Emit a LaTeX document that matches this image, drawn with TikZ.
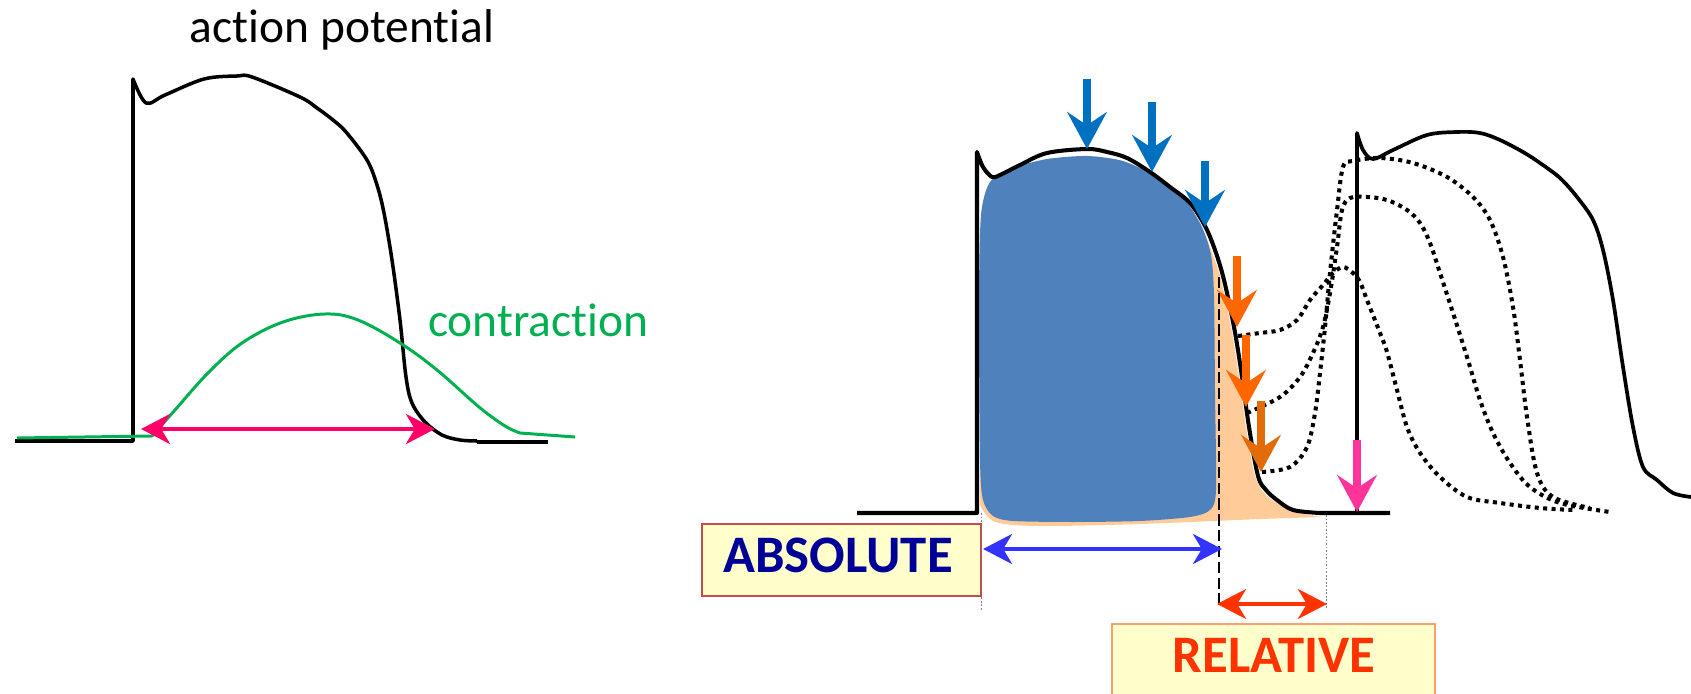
\documentclass[tikz,border=0pt]{standalone}
\usepackage{fontspec}
\setmainfont{Carlito}[Ligatures=NoCommon]
\usetikzlibrary{arrows.meta}
\definecolor{cgreen}{HTML}{00B050}
\definecolor{cpinkA}{HTML}{FF0066}
\definecolor{cblueA}{HTML}{0070C0}
\definecolor{corangeA}{HTML}{FF6600}
\definecolor{corangeB}{HTML}{E36C09}
\definecolor{cpinkB}{HTML}{FF3399}
\definecolor{cblueD}{HTML}{3333FF}
\definecolor{credD}{HTML}{FF3300}
\definecolor{cnavy}{HTML}{000099}
\definecolor{cabsb}{HTML}{C0504D}
\definecolor{crelb}{HTML}{FAA070}
\definecolor{cyell}{HTML}{FFFFCC}
\definecolor{cpeach}{HTML}{FFCC99}
\definecolor{cblob}{HTML}{4F81BD}
\tikzset{
  apl/.style={line width=2pt, line join=round},
  apr/.style={line width=2.3pt, line join=round},
  dotcurve/.style={line width=2.3pt, dash pattern=on 2.3pt off 2.5pt},
  blockarrow/.style={line width=4.5pt, -{Stealth[length=21pt,width=22.5pt,inset=7.5pt]}},
  dblarrow/.style={line width=2.3pt, {Stealth[length=16.5pt,width=17pt,inset=5pt]}-{Stealth[length=16.5pt,width=17pt,inset=5pt]}},
  labelbox/.style={draw, line width=1.1pt, fill=cyell, inner sep=0pt},
}
\begin{document}
\begin{tikzpicture}[x=0.2mm,y=-0.2mm]
\useasboundingbox (0,0) rectangle (1691,694);

% ---------- left panel ----------
\node[anchor=base, font=\fontsize{27pt}{32pt}\selectfont] (aptitle) at (342,43) {action potential};
\draw[apl] (15,441) -- (133,441) -- (133,79) -- plot[smooth,tension=0.55] coordinates {(133,79) (146,103) (165,95) (204,79) (237,76) (252,77) (300,97) (317,108) (333,120) (346,132) (367,160) (377,185) (384,213) (392,260) (400,320) (406,377) (412,403) (425,422) (442,435) (460,440) (477,441)};
\draw[line width=2.3pt] (477,442) -- (548,442);
\draw[cgreen, line width=1.7pt, line join=round] (17,438) -- (152,436) -- plot[smooth,tension=0.6] coordinates {(152,436) (175,410) (208,373) (242,343) (283,322) (325,314) (358,320) (400,343) (437,370) (479,407) (505,426) (520,433)} -- (575,437);
\node[anchor=base west, text=cgreen, font=\fontsize{27pt}{32pt}\selectfont] (contr) at (422,336) {contraction};
\coordinate (pa1) at (141,429);
\coordinate (pa2) at (435,429);
\draw[dblarrow, cpinkA, line width=2.8pt] (pa1) -- (pa2);

% ---------- right panel ----------
\fill[cpeach] (981,300) -- plot[smooth,tension=0.5] coordinates {(1150,200) (1185,212) (1203,232) (1213,255) (1221,280) (1231,327) (1238,370) (1246,427) (1255,476) (1267,496) (1292,511) (1322,517)} -- (1260,519) -- plot[smooth,tension=0.5] coordinates {(1260,519) (1140,524) (1040,526) (995,522) (980,505)} -- cycle;
\fill[cblob] plot[smooth cycle,tension=0.45] coordinates {(981,215) (990,182) (1013,168) (1047,159) (1087,156) (1123,161) (1157,177) (1185,200) (1202,227) (1211,255) (1214,295) (1215,393) (1216,490) (1210,510) (1190,517) (1140,521) (1073,522) (1013,521) (993,516) (983,500) (980,460) (979,300)};

\draw[apr] (857,513) -- (977,513) -- (977,152) -- plot[smooth,tension=0.55] coordinates {(977,152) (983,167) (992,177) (1000,175) (1020,165) (1047,153) (1087,149) (1107,152) (1127,158) (1150,172) (1170,187) (1190,203) (1205,226) (1215,250) (1224,280) (1234,327) (1241,370) (1249,427) (1258,476) (1266,490) (1277,500) (1293,510) (1320,513)} -- (1390,513);
\draw[apr, line width=2.1pt] (1357,513) -- (1357,133) -- plot[smooth,tension=0.55] coordinates {(1357,133) (1363,150) (1373,159) (1393,150) (1427,135) (1457,132) (1480,133) (1500,140) (1523,152) (1540,163) (1560,178) (1577,197) (1593,220) (1603,250) (1613,300) (1623,367) (1633,427) (1643,467) (1657,480) (1673,493) (1691,497)};

\draw[dotcurve] plot[smooth,tension=0.55] coordinates {(1238,336) (1260,333) (1280,330) (1297,320) (1310,300) (1323,285) (1333,273) (1343,267) (1353,273) (1360,282) (1367,300) (1380,333) (1387,352) (1397,390) (1407,427) (1420,453) (1440,477) (1467,497) (1500,503) (1540,508) (1573,510)};
\draw[dotcurve] plot[smooth,tension=0.55] coordinates {(1247,413) (1280,397) (1300,377) (1313,353) (1323,327) (1330,293) (1337,247) (1342,210) (1350,198) (1367,197) (1387,200) (1407,210) (1420,223) (1430,243) (1440,273) (1453,313) (1467,357) (1480,400) (1493,433) (1510,463) (1530,487) (1560,503) (1610,512)};
\draw[dotcurve] plot[smooth,tension=0.55] coordinates {(1262,472) (1290,467) (1307,447) (1315,413) (1320,373) (1325,327) (1330,273) (1337,210) (1343,167) (1353,161) (1380,158) (1413,163) (1447,177) (1473,197) (1490,220) (1503,257) (1513,307) (1520,360) (1527,417) (1537,473) (1553,497) (1590,508)};

% arrows
\coordinate (b1s) at (1087,79);  \coordinate (b1e) at (1087,149);
\coordinate (b2s) at (1152,102); \coordinate (b2e) at (1152,172);
\coordinate (b3s) at (1205,161); \coordinate (b3e) at (1205,227);
\coordinate (o1s) at (1237,256); \coordinate (o1e) at (1237,327);
\coordinate (o2s) at (1246,335); \coordinate (o2e) at (1246,407);
\coordinate (o3s) at (1261,401); \coordinate (o3e) at (1261,472);
\coordinate (pks) at (1357,440); \coordinate (pke) at (1357,512);
\draw[blockarrow, cblueA] (b1s) -- (b1e);
\draw[blockarrow, cblueA] (b2s) -- (b2e);
\draw[blockarrow, cblueA] (b3s) -- (b3e);
\draw[blockarrow, corangeA] (o1s) -- (o1e);
\draw[blockarrow, corangeA] (o2s) -- (o2e);
\draw[blockarrow, corangeB] (o3s) -- (o3e);
\draw[blockarrow, cpinkB] (pks) -- (pke);

% guide lines
\coordinate (dsh1) at (1219,277); \coordinate (dsh2) at (1219,609);
\draw[line width=0.9pt, dash pattern=on 6.5pt off 2.5pt] (dsh1) -- (dsh2);
\coordinate (g1a) at (981,513); \coordinate (g1b) at (981,611);
\coordinate (g2a) at (1326,515); \coordinate (g2b) at (1326,608);
\draw[gray, line width=0.5pt, dash pattern=on 1pt off 1pt] (g1a) -- (g1b);
\draw[gray, line width=0.5pt, dash pattern=on 1pt off 1pt] (g2a) -- (g2b);

% double arrows
\coordinate (ab1) at (983,549); \coordinate (ab2) at (1222,549);
\draw[dblarrow, cblueD] (ab1) -- (ab2);
\coordinate (rl1) at (1217,604); \coordinate (rl2) at (1327,604);
\draw[dblarrow, credD] (rl1) -- (rl2);

% label boxes
\node[labelbox, draw=cabsb, minimum width=158.8pt, minimum height=41pt] (absbox) at (841.5,560) {};
\node[anchor=base, text=cnavy, font=\fontsize{30pt}{36pt}\selectfont\bfseries] (abstext) at (838,572) {ABSOLUTE};
\node[labelbox, draw=crelb, minimum width=183.8pt, minimum height=54.6pt] (relbox) at (1273.5,672) {};
\node[anchor=base, text=credD, font=\fontsize{30pt}{36pt}\selectfont\bfseries] (reltext) at (1274,672) {RELATIVE};
\end{tikzpicture}
\end{document}
